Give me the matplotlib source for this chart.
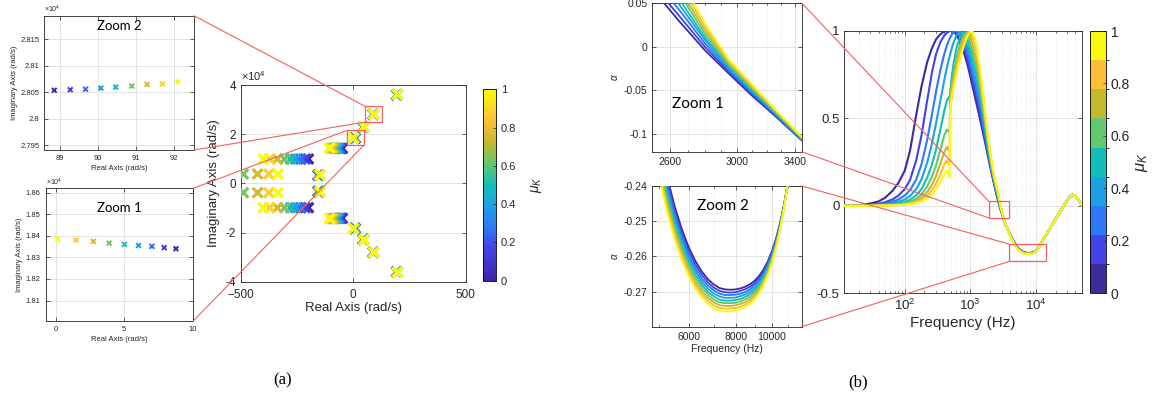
import numpy as np
import matplotlib
matplotlib.use('Agg')
import matplotlib.pyplot as plt
from matplotlib.colors import LinearSegmentedColormap, ListedColormap, BoundaryNorm, Normalize
from matplotlib.cm import ScalarMappable
from matplotlib.patches import Rectangle, ConnectionPatch
from matplotlib.ticker import FixedLocator, NullFormatter, LogLocator

nan = float('nan')

# ---------------- (a) pole map data (imaginary parts in units of 1e4 rad/s) ----------------
mu_values = [0, 0.125, 0.25, 0.375, 0.5, 0.625, 0.75, 0.875, 1.0]

zoom1_real = [8.78, 7.92, 7.02, 6.04, 5.01, 3.89, 2.74, 1.47, 0.12]
zoom1_imag = [1.8340, 1.8345, 1.8351, 1.8355, 1.8360, 1.8366, 1.8374, 1.8380, 1.8386]
zoom2_real = [88.86, 89.28, 89.68, 90.08, 90.47, 90.89, 91.29, 91.69, 92.09]
zoom2_imag = [2.8054, 2.8055, 2.8056, 2.8058, 2.8060, 2.8062, 2.8065, 2.8066, 2.8070]

pole_a_real = [193, 193.5, 194, 194.5, 195, 195.5, 196, 196.5, 197]
pole_a_imag = [3.60, 3.60, 3.605, 3.605, 3.61, 3.61, 3.615, 3.615, 3.62]
pole_c_real = [44, 44.5, 45, 45.5, 46, 46.5, 47, 47.5, 48]
pole_c_imag = [2.28, 2.28, 2.285, 2.285, 2.29, 2.29, 2.295, 2.295, 2.30]
pole_e_real = [-48, -55, -62, -69, -76, -83, -90, -98, -106]
pole_e_imag = [1.42, 1.42, 1.425, 1.425, 1.43, 1.43, 1.435, 1.435, 1.44]
pole_f_real = [-199, -213, -234, -256, -278, -304, -337, -371, -400]
pole_f_imag = [0.99, 0.99, 0.99, 0.99, 0.99, 0.99, 0.99, 0.99, 0.99]
pole_g_real = [-156, -155, -154, -153, -151, -150, -149, -148, -147]
pole_g_imag = [0.33, 0.33, 0.335, 0.335, 0.34, 0.34, 0.345, 0.345, 0.35]
pole_h_real = [nan, nan, nan, nan, nan, -488, -425, -375, -334]
pole_h_imag = [nan, nan, nan, nan, nan, 0.38, 0.38, 0.38, 0.38]

# ---------------- (b) alpha vs frequency, one list per mu value ----------------
freq_hz = [12, 20, 30, 40, 50, 65, 80, 100, 120, 150,
           180, 220, 260, 300, 350, 400, 440, 470, 485, 495,
           520, 560, 620, 700, 800, 900, 1000, 1100, 1250, 1400,
           1600, 1800, 2000, 2250,
           2500, 2650, 2800, 2950, 3100, 3250, 3450, 4000, 4500,
           5000, 5250, 5500, 5750, 6000, 6250, 6500, 6750, 7000, 7250,
           7500, 7750, 8000, 8250, 8500, 8750, 9000, 9250, 9500, 9750,
           10000, 10250, 10500, 10750, 11000, 11500, 12000]
freq_tail = [14000, 17000, 20000, 24000, 28000, 32000, 36000, 40000, 45000, 50000]
alpha_tail = [-0.172, -0.121, -0.076, -0.027, 0.014, 0.045, 0.063, 0.055, 0.033, 0.002]

alpha_mu0 = [0.000, 0.004, 0.013, 0.025, 0.045, 0.085, 0.130, 0.200, 0.310, 0.520,
             0.680, 0.820, 0.900, 0.950, 0.980, 0.995, 1.000, 1.000, 1.000, 1.000,
             1.000, 0.995, 0.975, 0.935, 0.875, 0.810, 0.740, 0.670, 0.580, 0.500,
             0.400, 0.310, 0.228, 0.141,
             0.066, 0.029, -0.004, -0.031, -0.056, -0.078, -0.107, -0.1600, -0.1960,
             -0.2261, -0.2371, -0.2456, -0.2522, -0.2574, -0.2613, -0.2643, -0.2665, -0.2680, -0.2690,
             -0.2694, -0.2695, -0.2694, -0.2691, -0.2686, -0.2679, -0.2669, -0.2655, -0.2637, -0.2614,
             -0.2585, -0.2550, -0.2507, -0.2457, -0.2397, -0.2265, -0.2130]
alpha_mu1 = [0.000, 0.002, 0.006, 0.012, 0.020, 0.036, 0.058, 0.095, 0.145, 0.260,
             0.400, 0.600, 0.760, 0.865, 0.935, 0.972, 0.988, 0.995, 0.998, 1.000,
             1.000, 1.000, 0.990, 0.960, 0.905, 0.842, 0.775, 0.706, 0.620, 0.535,
             0.425, 0.325, 0.239, 0.148,
             0.072, 0.035, 0.000, -0.029, -0.054, -0.077, -0.1065, -0.1608, -0.1973,
             -0.2275, -0.2384, -0.2468, -0.2533, -0.2584, -0.2623, -0.2652, -0.2674, -0.2689, -0.2698,
             -0.2702, -0.2703, -0.2702, -0.2698, -0.2693, -0.2686, -0.2676, -0.2661, -0.2643, -0.2619,
             -0.2589, -0.2553, -0.2510, -0.2458, -0.2397, -0.2266, -0.2131]
alpha_mu2 = [0.000, 0.001, 0.004, 0.008, 0.013, 0.023, 0.036, 0.058, 0.088, 0.150,
             0.235, 0.375, 0.520, 0.650, 0.775, 0.865, 0.915, 0.943, 0.955, 0.962,
             0.977, 0.992, 1.000, 0.985, 0.937, 0.878, 0.812, 0.745, 0.660, 0.570,
             0.450, 0.340, 0.250, 0.155,
             0.079, 0.042, 0.004, -0.027, -0.053, -0.076, -0.106, -0.1615, -0.1985,
             -0.2288, -0.2396, -0.2479, -0.2544, -0.2595, -0.2633, -0.2662, -0.2683, -0.2697, -0.2706,
             -0.2710, -0.2710, -0.2709, -0.2706, -0.2701, -0.2693, -0.2682, -0.2668, -0.2648, -0.2624,
             -0.2594, -0.2557, -0.2512, -0.2460, -0.2398, -0.2268, -0.2133]
alpha_mu3 = [0.000, 0.001, 0.003, 0.005, 0.008, 0.014, 0.022, 0.036, 0.055, 0.095,
             0.150, 0.245, 0.355, 0.470, 0.600, 0.715, 0.790, 0.835, 0.855, 0.868,
             0.897, 0.935, 0.975, 0.997, 0.965, 0.912, 0.850, 0.785, 0.700, 0.610,
             0.480, 0.360, 0.260, 0.161,
             0.085, 0.048, 0.008, -0.025, -0.051, -0.075, -0.1055, -0.1623, -0.1998,
             -0.2302, -0.2409, -0.2491, -0.2555, -0.2605, -0.2642, -0.2671, -0.2692, -0.2706, -0.2714,
             -0.2718, -0.2718, -0.2717, -0.2713, -0.2708, -0.2700, -0.2689, -0.2674, -0.2654, -0.2629,
             -0.2598, -0.2560, -0.2515, -0.2461, -0.2398, -0.2269, -0.2134]
alpha_mu4 = [0.000, 0.000, 0.002, 0.003, 0.005, 0.009, 0.014, 0.022, 0.034, 0.060,
             0.095, 0.160, 0.235, 0.320, 0.435, 0.540, 0.600, 0.620, 0.625, 0.650,
             0.730, 0.820, 0.905, 0.965, 0.995, 0.950, 0.890, 0.825, 0.750, 0.645,
             0.505, 0.375, 0.270, 0.168,
             0.091, 0.054, 0.011, -0.023, -0.050, -0.074, -0.105, -0.1630, -0.2010,
             -0.2315, -0.2421, -0.2502, -0.2566, -0.2615, -0.2652, -0.2680, -0.2701, -0.2714, -0.2723,
             -0.2726, -0.2726, -0.2724, -0.2721, -0.2715, -0.2707, -0.2696, -0.2680, -0.2660, -0.2634,
             -0.2603, -0.2564, -0.2517, -0.2463, -0.2399, -0.2270, -0.2135]
alpha_mu5 = [0.000, 0.000, 0.001, 0.002, 0.003, 0.006, 0.009, 0.015, 0.023, 0.040,
             0.065, 0.110, 0.165, 0.230, 0.320, 0.400, 0.435, 0.425, 0.420, 0.640,
             0.690, 0.760, 0.845, 0.925, 0.975, 0.995, 0.930, 0.865, 0.790, 0.680,
             0.530, 0.390, 0.280, 0.175,
             0.097, 0.061, 0.015, -0.021, -0.048, -0.073, -0.1045, -0.1638, -0.2023,
             -0.2329, -0.2434, -0.2514, -0.2577, -0.2625, -0.2662, -0.2689, -0.2709, -0.2723, -0.2731,
             -0.2733, -0.2733, -0.2732, -0.2728, -0.2722, -0.2714, -0.2702, -0.2686, -0.2665, -0.2639,
             -0.2607, -0.2567, -0.2520, -0.2464, -0.2399, -0.2271, -0.2136]
alpha_mu6 = [0.000, 0.000, 0.001, 0.001, 0.002, 0.004, 0.006, 0.010, 0.016, 0.028,
             0.046, 0.078, 0.120, 0.170, 0.240, 0.305, 0.335, 0.318, 0.310, 0.610,
             0.660, 0.730, 0.815, 0.900, 0.960, 0.990, 0.968, 0.905, 0.835, 0.715,
             0.555, 0.410, 0.293, 0.181,
             0.104, 0.067, 0.019, -0.019, -0.046, -0.072, -0.104, -0.1645, -0.2035,
             -0.2343, -0.2446, -0.2526, -0.2588, -0.2636, -0.2672, -0.2699, -0.2718, -0.2731, -0.2739,
             -0.2741, -0.2741, -0.2739, -0.2735, -0.2730, -0.2721, -0.2709, -0.2693, -0.2671, -0.2644,
             -0.2611, -0.2570, -0.2522, -0.2465, -0.2399, -0.2273, -0.2138]
alpha_mu7 = [0.000, 0.000, 0.000, 0.001, 0.002, 0.003, 0.005, 0.008, 0.012, 0.021,
             0.034, 0.057, 0.088, 0.125, 0.180, 0.235, 0.260, 0.240, 0.230, 0.585,
             0.635, 0.700, 0.785, 0.870, 0.940, 0.980, 0.998, 0.950, 0.880, 0.755,
             0.585, 0.425, 0.304, 0.188,
             0.110, 0.074, 0.023, -0.017, -0.045, -0.071, -0.1035, -0.1653, -0.2048,
             -0.2356, -0.2459, -0.2537, -0.2599, -0.2646, -0.2682, -0.2708, -0.2727, -0.2740, -0.2747,
             -0.2749, -0.2748, -0.2747, -0.2743, -0.2737, -0.2728, -0.2715, -0.2699, -0.2676, -0.2649,
             -0.2616, -0.2574, -0.2525, -0.2467, -0.2400, -0.2274, -0.2139]
alpha_mu8 = [0.000, 0.000, 0.000, 0.001, 0.001, 0.002, 0.004, 0.006, 0.009, 0.016,
             0.025, 0.042, 0.064, 0.092, 0.135, 0.180, 0.200, 0.175, 0.165, 0.560,
             0.610, 0.675, 0.755, 0.840, 0.915, 0.965, 0.998, 0.992, 0.920, 0.790,
             0.610, 0.440, 0.315, 0.195,
             0.116, 0.080, 0.027, -0.015, -0.043, -0.070, -0.103, -0.1660, -0.2060,
             -0.2370, -0.2471, -0.2549, -0.2610, -0.2656, -0.2691, -0.2717, -0.2736, -0.2748, -0.2755,
             -0.2757, -0.2756, -0.2754, -0.2750, -0.2744, -0.2735, -0.2722, -0.2705, -0.2682, -0.2654,
             -0.2620, -0.2577, -0.2527, -0.2468, -0.2400, -0.2275, -0.2140]

# ---------------- styling ----------------
plt.rcParams['font.family'] = ['Liberation Sans', 'DejaVu Sans']
plt.rcParams['mathtext.fontset'] = 'custom'
plt.rcParams['mathtext.rm'] = 'Liberation Sans'
plt.rcParams['mathtext.it'] = 'Liberation Sans:italic'
TXT = '#262626'
RED = '#f06060'
GRID = '#dedede'

parula = LinearSegmentedColormap.from_list('parula', [
    (0.0, '#3e26a8'), (0.167, '#4343e8'), (0.278, '#2f78f8'), (0.389, '#1ea0e6'),
    (0.5, '#12beb9'), (0.611, '#64c86e'), (0.722, '#c3b92d'), (0.833, '#fcbe37'),
    (1.0, '#f9fb0e')])
bin_colors = ['#3b2c9c', '#4343e8', '#2f78f8', '#1ea0e6', '#12beb9',
              '#64c86e', '#c3b92d', '#fcbe37', '#f8fa14']

W, H = 1167, 405
fig = plt.figure(figsize=(W / 100, H / 100), dpi=100)


def add_ax(l, t, r, b):
    return fig.add_axes([l / W, 1 - b / H, (r - l) / W, (b - t) / H])


def style(ax, fs):
    for s in ax.spines.values():
        s.set_color(TXT)
        s.set_linewidth(0.6)
    ax.tick_params(which='both', direction='in', colors=TXT, labelsize=fs,
                   width=0.5, top=True, right=True)
    ax.tick_params(which='major', length=3)
    ax.tick_params(which='minor', length=1.5)
    ax.grid(True, which='major', color=GRID, lw=0.6)


# ---------------- (a) main pole map ----------------
clusters = [(pole_a_real, pole_a_imag), (zoom2_real, zoom2_imag), (pole_c_real, pole_c_imag),
            (zoom1_real, zoom1_imag), (pole_e_real, pole_e_imag), (pole_f_real, pole_f_imag),
            (pole_g_real, pole_g_imag), (pole_h_real, pole_h_imag)]

ax_pz = add_ax(240.7, 85, 465.7, 281.7)
style(ax_pz, 8.5)
ax_pz.tick_params(axis='x', pad=5)
for re_, im_ in clusters:
    ax_pz.scatter(re_ + re_, im_ + [-v for v in im_], c=mu_values + mu_values, cmap=parula,
                  vmin=0, vmax=1, marker='x', s=50, linewidths=2.3, zorder=3)
ax_pz.set_xlim(-500, 500)
ax_pz.set_ylim(-4, 4)
ax_pz.set_xticks([-500, 0, 500])
ax_pz.set_yticks([-4, -2, 0, 2, 4])
ax_pz.set_yticklabels(['-4', '-2', '0', '2', '4'])
ax_pz.set_xlabel('Real Axis (rad/s)', fontsize=9.5, color=TXT, labelpad=1)
ax_pz.set_ylabel('Imaginary Axis (rad/s)', fontsize=9.5, color=TXT, labelpad=4)
ax_pz.text(0, 1.01, r'$\times10^4$', transform=ax_pz.transAxes, fontsize=8, color=TXT,
           va='bottom', ha='left')
box_b = (53, 2.49, 76, 0.64)
box_d = (-29, 1.54, 75, 0.61)
for x0, y0, w, h in (box_b, box_d):
    ax_pz.add_patch(Rectangle((x0, y0), w, h, fill=False, ec=RED, lw=0.9, zorder=4))

cax_a = add_ax(483.3, 89.3, 496, 280.7)
cb_a = fig.colorbar(ScalarMappable(norm=Normalize(0, 1), cmap=parula), cax=cax_a)
cb_a.set_ticks([0, 0.2, 0.4, 0.6, 0.8, 1])
cb_a.set_ticklabels(['0', '0.2', '0.4', '0.6', '0.8', '1'])
cb_a.ax.tick_params(labelsize=8, colors=TXT, direction='in', length=2, width=0.5)
cb_a.outline.set_linewidth(0.6)
cb_a.set_label(r'$\mu_K$', fontsize=10, color=TXT, labelpad=9)

# ---------------- (a) zoom insets ----------------
ax_z2a = add_ax(44.3, 15.7, 194, 150)
style(ax_z2a, 5.5)
ax_z2a.scatter(zoom2_real, zoom2_imag, c=mu_values, cmap=parula, vmin=0, vmax=1,
               marker='x', s=12, linewidths=1.4, zorder=3)
ax_z2a.set_xlim(88.6, 92.52)
ax_z2a.set_ylim(2.7941, 2.8195)
ax_z2a.set_xticks([89, 90, 91, 92])
z2_ticks = [2.795, 2.8, 2.805, 2.81, 2.815]
ax_z2a.set_yticks(z2_ticks)
ax_z2a.set_yticklabels(['%g' % v for v in z2_ticks])
ax_z2a.set_xlabel('Real Axis (rad/s)', fontsize=5.5, color=TXT, labelpad=2)
ax_z2a.set_ylabel('Imaginary Axis (rad/s)', fontsize=5.5, color=TXT, labelpad=2)
ax_z2a.text(0, 1.005, r'$\times10^4$', transform=ax_z2a.transAxes, fontsize=5, color=TXT,
            va='bottom', ha='left')
ax_z2a.text(0.5, 0.92, 'Zoom 2', transform=ax_z2a.transAxes, fontsize=9.5, family='Lato',
            ha='center', va='center', color='black')

ax_z1a = add_ax(45.7, 188.3, 193.3, 321)
style(ax_z1a, 5.5)
ax_z1a.scatter(zoom1_real, zoom1_imag, c=mu_values, cmap=parula, vmin=0, vmax=1,
               marker='x', s=12, linewidths=1.4, zorder=3)
ax_z1a.set_xlim(-0.75, 10.05)
ax_z1a.set_ylim(1.8005, 1.862)
ax_z1a.set_xticks([0, 5, 10])
z1_ticks = [1.81, 1.82, 1.83, 1.84, 1.85, 1.86]
ax_z1a.set_yticks(z1_ticks)
ax_z1a.set_yticklabels(['%g' % v for v in z1_ticks])
ax_z1a.set_xlabel('Real Axis (rad/s)', fontsize=5.5, color=TXT, labelpad=2)
ax_z1a.set_ylabel('Imaginary Axis (rad/s)', fontsize=5.5, color=TXT, labelpad=2)
ax_z1a.text(0, 1.005, r'$\times10^4$', transform=ax_z1a.transAxes, fontsize=5, color=TXT,
            va='bottom', ha='left')
ax_z1a.text(0.5, 0.85, 'Zoom 1', transform=ax_z1a.transAxes, fontsize=9.5, family='Lato',
            ha='center', va='center', color='black')

# ---------------- (b) curves ----------------
curves = [alpha_mu0, alpha_mu1, alpha_mu2, alpha_mu3, alpha_mu4,
          alpha_mu5, alpha_mu6, alpha_mu7, alpha_mu8]
freq_all = freq_hz + freq_tail

ax_b = add_ax(844.3, 30.7, 1081.7, 293.3)
ax_z1b = add_ax(652.3, 3, 801.7, 151.7)
ax_z2b = add_ax(652.3, 186, 801.7, 326.7)

for ax, lw in ((ax_b, 1.5), (ax_z1b, 1.3), (ax_z2b, 1.3)):
    for k, vals in enumerate(curves):
        ax.plot(freq_all, vals + alpha_tail, color=bin_colors[k], lw=lw, zorder=3)
    ax.set_xscale('log')

style(ax_b, 9.5)
ax_b.set_xlim(12, 5e4)
ax_b.set_ylim(-0.5, 1)
ax_b.set_xticks([1e2, 1e3, 1e4], [r'$10^2$', r'$10^3$', r'$10^4$'])
ax_b.xaxis.set_minor_locator(LogLocator(base=10, subs=np.arange(2, 10)))
ax_b.xaxis.set_minor_formatter(NullFormatter())
ax_b.set_yticks([-0.5, 0, 0.5, 1], ['-0.5', '0', '0.5', '1'])
ax_b.grid(True, which='minor', axis='x', color=GRID, lw=0.5, ls=':')
ax_b.set_xlabel('Frequency (Hz)', fontsize=11, color=TXT, labelpad=2)
box_1 = (1923, -0.070, 3935 - 1923, 0.0946)
box_2 = (3935, -0.318, 14390 - 3935, 0.099)
for x0, y0, w, h in (box_1, box_2):
    ax_b.add_patch(Rectangle((x0, y0), w, h, fill=False, ec=RED, lw=0.9, zorder=4))

style(ax_z1b, 7.5)
ax_z1b.set_xlim(2500, 3450)
ax_z1b.set_ylim(-0.12, 0.05)
ax_z1b.set_xticks([2600, 3000, 3400], ['2600', '3000', '3400'])
ax_z1b.xaxis.set_minor_locator(FixedLocator(np.arange(2500, 3500, 100)))
ax_z1b.xaxis.set_minor_formatter(NullFormatter())
ax_z1b.set_yticks([-0.1, -0.05, 0, 0.05], ['-0.1', '-0.05', '0', '0.05'])
ax_z1b.grid(True, which='minor', axis='x', color=GRID, lw=0.5, ls=':')
ax_z1b.set_ylabel(r'$\alpha$', fontsize=7, color=TXT, labelpad=3)
ax_z1b.text(0.13, 0.32, 'Zoom 1', transform=ax_z1b.transAxes, fontsize=11, family='Lato',
            ha='left', va='center', color='black')

style(ax_z2b, 7.5)
ax_z2b.set_xlim(4800, 12000)
ax_z2b.set_ylim(-0.28, -0.24)
ax_z2b.set_xticks([6000, 8000, 10000], ['6000', '8000', '10000'])
ax_z2b.xaxis.set_minor_locator(FixedLocator([5000, 7000, 9000, 11000, 12000]))
ax_z2b.xaxis.set_minor_formatter(NullFormatter())
ax_z2b.set_yticks([-0.27, -0.26, -0.25, -0.24], ['-0.27', '-0.26', '-0.25', '-0.24'])
ax_z2b.grid(True, which='minor', axis='x', color=GRID, lw=0.5, ls=':')
ax_z2b.set_ylabel(r'$\alpha$', fontsize=7, color=TXT, labelpad=3)
ax_z2b.set_xlabel('Frequency (Hz)', fontsize=7.5, color=TXT, labelpad=2)
ax_z2b.text(0.30, 0.86, 'Zoom 2', transform=ax_z2b.transAxes, fontsize=11, family='Lato',
            ha='left', va='center', color='black')

cax_b = add_ax(1090, 31, 1105.7, 293.3)
cb_b = fig.colorbar(ScalarMappable(norm=BoundaryNorm(np.linspace(0, 1, 10), 9),
                                   cmap=ListedColormap(bin_colors)), cax=cax_b)
cb_b.set_ticks([0, 0.2, 0.4, 0.6, 0.8, 1])
cb_b.set_ticklabels(['0', '0.2', '0.4', '0.6', '0.8', '1'])
cb_b.ax.tick_params(labelsize=10, colors=TXT, direction='in', length=2, width=0.5)
cb_b.outline.set_linewidth(0.6)
cb_b.set_label(r'$\mu_K$', fontsize=12, color=TXT, labelpad=3)

# ---------------- zoom connector lines ----------------
links = [
    (ax_z2a, (1, 1), ax_pz, (box_b[0], box_b[1] + box_b[3])),
    (ax_z2a, (1, 0), ax_pz, (box_b[0], box_b[1])),
    (ax_z1a, (1, 1), ax_pz, (box_d[0], box_d[1] + box_d[3])),
    (ax_z1a, (1, 0), ax_pz, (box_d[0] + box_d[2], box_d[1])),
    (ax_z1b, (1, 1), ax_b, (box_1[0], box_1[1] + box_1[3])),
    (ax_z1b, (1, 0), ax_b, (box_1[0], box_1[1])),
    (ax_z2b, (1, 1), ax_b, (box_2[0], box_2[1] + box_2[3])),
    (ax_z2b, (1, 0), ax_b, (box_2[0], box_2[1])),
]
for ax_in, corner, ax_main, pt in links:
    con = ConnectionPatch(xyA=corner, coordsA=ax_in.transAxes, xyB=pt,
                          coordsB=ax_main.transData, color=RED, lw=0.8, zorder=5)
    fig.add_artist(con)

fig.text(283 / W, 1 - 380 / H, '(a)', family='Liberation Serif', fontsize=12,
         ha='center', va='center')
fig.text(858 / W, 1 - 382 / H, '(b)', family='Liberation Serif', fontsize=12,
         ha='center', va='center')

fig.savefig('out.png', dpi=100)
